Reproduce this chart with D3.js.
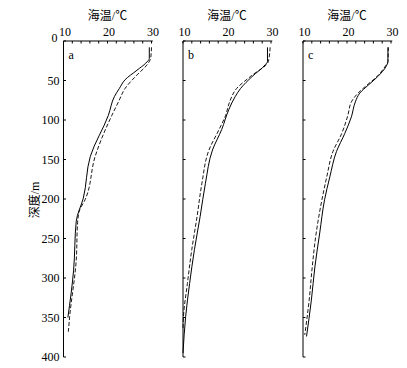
<!DOCTYPE html>
<html><head><meta charset="utf-8">
<script src="https://cdn.jsdelivr.net/npm/d3@7"></script>
<style>
body{margin:0;background:#fff;}
text{font-family:"Liberation Serif","Times New Roman","Noto Sans CJK SC",serif;}
</style></head>
<body>
<svg id="chart" width="407" height="368"></svg>
<script>
const panelLabels = ["a", "b", "c"];
const xTitle = "海温/℃";
const yTitle = "深度/m";
const xTicks = [10, 20, 30];
const yTicks = [0, 50, 100, 150, 200, 250, 300, 350, 400];

const aSolidDepth = [8, 22, 28, 37, 49, 60, 70, 94, 146, 199, 228, 290, 350];
const aSolidTemp  = [29.5, 29.5, 28.7, 26.7, 24.0, 22.7, 21.6, 20.2, 16.1, 14.5, 12.9, 12.3, 11.0];
const aDashDepth  = [8, 22, 30, 43, 60, 77, 94, 146, 201, 215, 230, 277, 349, 368];
const aDashTemp   = [30.0, 29.8, 29.0, 26.7, 24.0, 22.5, 21.0, 17.2, 14.9, 13.6, 13.2, 12.9, 11.4, 11.1];

const bSolidDepth = [8, 26, 30, 45, 60, 70, 87, 112, 138, 180, 222, 264, 307, 349, 395];
const bSolidTemp  = [29.2, 29.2, 28.7, 25.7, 23.1, 21.9, 20.4, 18.8, 16.7, 15.1, 13.9, 12.6, 11.5, 10.6, 10.0];
const bDashDepth  = [8, 26, 45, 60, 77, 94, 112, 138, 180, 222, 264, 307, 349, 365];
const bDashTemp   = [29.8, 29.4, 25.3, 22.2, 20.6, 19.7, 18.2, 15.9, 14.3, 13.2, 12.0, 11.0, 10.1, 10.0];

const cSolidDepth = [8, 26, 32, 45, 56, 66, 77, 96, 117, 140, 172, 201, 243, 286, 328, 374];
const cSolidTemp  = [29.3, 29.3, 28.9, 27.0, 24.8, 22.9, 21.9, 21.0, 19.5, 17.6, 16.1, 14.9, 13.8, 12.7, 11.9, 10.8];
const cDashDepth  = [8, 26, 32, 45, 56, 66, 77, 94, 117, 140, 172, 201, 243, 286, 328, 372];
const cDashTemp   = [29.4, 29.3, 28.7, 26.8, 24.5, 22.5, 21.0, 20.2, 18.8, 16.8, 15.4, 14.3, 13.0, 12.1, 11.4, 10.4];

const panels = [
  {label: panelLabels[0], solid: [aSolidDepth, aSolidTemp], dash: [aDashDepth, aDashTemp]},
  {label: panelLabels[1], solid: [bSolidDepth, bSolidTemp], dash: [bDashDepth, bDashTemp]},
  {label: panelLabels[2], solid: [cSolidDepth, cSolidTemp], dash: [cDashDepth, cDashTemp]}
];

const svg = d3.select("#chart");
const plotTop = 41, plotBottom = 357;
const offsets = [63.5, 183, 303];
const pw = 88; // width 10..30

const y = d3.scaleLinear().domain([0, 400]).range([plotTop, plotBottom]);

panels.forEach((p, i) => {
  const g = svg.append("g").attr("transform", `translate(${offsets[i]},0)`);
  const x = d3.scaleLinear().domain([10, 30]).range([0, pw]);

  // top axis
  const xa = g.append("g").attr("transform", `translate(0,${plotTop})`);
  xa.append("line").attr("x1", 0).attr("x2", x(30.3)).attr("y1", 0).attr("y2", 0)
    .attr("stroke", "#000").attr("stroke-width", 1);
  const minor = d3.range(10, 30.01, 2);
  xa.selectAll("line.t").data(minor).enter().append("line").attr("class", "t")
    .attr("x1", d => x(d)).attr("x2", d => x(d)).attr("y1", 0).attr("y2", 2.5)
    .attr("stroke", "#000").attr("stroke-width", 1);
  xa.selectAll("text").data(xTicks).enter().append("text")
    .attr("x", d => x(d) + 1.5).attr("y", -5).attr("text-anchor", "middle")
    .attr("font-size", 12).text(d => d);

  // left axis
  const ya = g.append("g");
  ya.append("line").attr("x1", 0).attr("x2", 0).attr("y1", y(0)).attr("y2", y(400))
    .attr("stroke", "#000").attr("stroke-width", 1);
  ya.selectAll("line.t").data(yTicks).enter().append("line").attr("class", "t")
    .attr("x1", 0).attr("x2", 2.5).attr("y1", d => y(d)).attr("y2", d => y(d))
    .attr("stroke", "#000").attr("stroke-width", 1);
  if (i === 0) {
    ya.selectAll("text").data(yTicks).enter().append("text")
      .attr("x", d => d === 0 ? -6 : -4).attr("y", d => y(d) + (d === 0 ? 1 : 4)).attr("text-anchor", "end")
      .attr("font-size", 12).text(d => d);
  }

  // title
  g.append("text").attr("x", pw / 2).attr("y", 20).attr("text-anchor", "middle")
    .attr("font-size", 12).text(xTitle);

  // panel letter
  g.append("text").attr("x", 5).attr("y", 59).attr("font-size", 12).text(p.label);

  const line = d3.line().x(d => x(d[1])).y(d => y(d[0])).curve(d3.curveMonotoneY);
  const sd = p.solid[0].map((d, k) => [d, p.solid[1][k]]);
  const dd = p.dash[0].map((d, k) => [d, p.dash[1][k]]);
  g.append("path").datum(dd).attr("d", line).attr("fill", "none")
    .attr("stroke", "#000").attr("stroke-width", 0.9).attr("stroke-dasharray", "4,2");
  g.append("path").datum(sd).attr("d", line).attr("fill", "none")
    .attr("stroke", "#000").attr("stroke-width", 1);
});

svg.append("text").attr("transform", `translate(39,200) rotate(-90)`)
  .attr("text-anchor", "middle").attr("font-size", 12).text(yTitle);
</script>
</body></html>
